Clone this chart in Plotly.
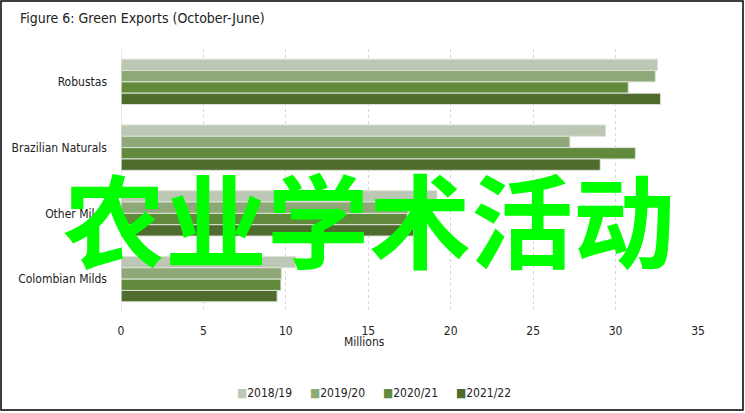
"""
Figure 6: Green Exports (October-June) - grouped horizontal bars by coffee group.
"""

import plotly.graph_objects as go

# categories, top to bottom
groups = ["Robustas", "Brazilian Naturals", "Other Milds", "Colombian Milds"]

# millions of bags
exports_2018_19 = [32.55, 29.39, 19.17, 10.59]
exports_2019_20 = [32.41, 27.23, 17.41, 9.73]
exports_2020_21 = [30.77, 31.20, 17.36, 9.70]
exports_2021_22 = [32.73, 29.07, 17.76, 9.47]

seasons = ["2018/19", "2019/20", "2020/21", "2021/22"]
season_colors = ["#BDC8B4", "#8FA877", "#628A3D", "#4F6B2E"]

x_ticks = [0, 5, 10, 15, 20, 25, 30, 35]

FONT = "DejaVu Sans Condensed, Liberation Sans Narrow, sans-serif"
W, H = 745, 413
L, R, T, B = 121, 47, 49, 101
PW, PH = W - L - R, H - T - B


def px_x(px):
    return (px - L) / PW


def px_y(py):
    return (H - B - py) / PH


fig = go.Figure()
for name, vals, col in zip(
    seasons,
    [exports_2018_19, exports_2019_20, exports_2020_21, exports_2021_22],
    season_colors,
):
    fig.add_trace(
        go.Bar(
            name=name,
            y=groups,
            x=vals,
            orientation="h",
            marker=dict(color=col, line=dict(color="#DDE2D8", width=1)),
        )
    )

fig.update_layout(
    width=W,
    height=H,
    margin=dict(l=L, r=R, t=T, b=B, autoexpand=False),
    paper_bgcolor="white",
    plot_bgcolor="white",
    barmode="group",
    bargap=0.31,
    bargroupgap=0,
    font=dict(family=FONT, size=12, color="#222222"),
    title=dict(
        text="Figure 6: Green Exports (October-June)",
        x=20 / W,
        xanchor="left",
        y=1 - 18 / H,
        yanchor="middle",
        font=dict(family=FONT, size=14, color="#222222"),
        automargin=False,
    ),
    xaxis=dict(
        range=[0, 35],
        tickvals=x_ticks,
        showgrid=True,
        gridcolor="#D6D6D6",
        griddash="dot",
        gridwidth=1,
        zeroline=False,
        showline=False,
        ticks="",
        ticklabelstandoff=10,
        tickfont=dict(size=12),
        automargin=False,
    ),
    yaxis=dict(
        autorange="reversed",
        showgrid=False,
        zeroline=False,
        showline=False,
        ticks="",
        ticklabelstandoff=13,
        tickfont=dict(size=12),
        automargin=False,
    ),
    showlegend=False,
)

# compact legend row like the source (plotly's own legend spaces items too far apart)
for i, (name, col) in enumerate(zip(seasons, season_colors)):
    fig.add_annotation(
        text=f'<span style="color:{col}">■</span>{name}',
        xref="paper", yref="paper",
        x=px_x(235 + 73 * i), y=px_y(393),
        xanchor="left", yanchor="middle",
        showarrow=False,
        font=dict(family=FONT, size=12, color="#222222"),
    )

# solid zero line and outer frame
fig.add_shape(
    type="line", xref="x", yref="paper",
    x0=0, x1=0, y0=0, y1=1,
    line=dict(color="#D6D6D6", width=1),
)
fig.add_shape(
    type="rect", xref="paper", yref="paper",
    x0=px_x(1), x1=px_x(743), y0=px_y(1), y1=px_y(410),
    line=dict(color="black", width=1.5),
    fillcolor="rgba(0,0,0,0)",
    layer="above",
)

fig.add_annotation(
    text="Millions",
    xref="paper", yref="paper",
    x=px_x(364), y=px_y(342),
    xanchor="center", yanchor="middle",
    showarrow=False,
    font=dict(family=FONT, size=12, color="#222222"),
)

# overlay text on the picture
fig.add_annotation(
    text="<b>农业学术活动</b>",
    xref="paper", yref="paper",
    x=px_x(369), y=px_y(216),
    xanchor="center", yanchor="middle",
    showarrow=False,
    font=dict(family="Noto Sans CJK SC", size=102, color="#00FF00"),
)

# page body margin would shift the figure off the window
fig.write_html(
    "out.html",
    config={"displayModeBar": False},
    post_script="document.body.style.margin='0';",
)
